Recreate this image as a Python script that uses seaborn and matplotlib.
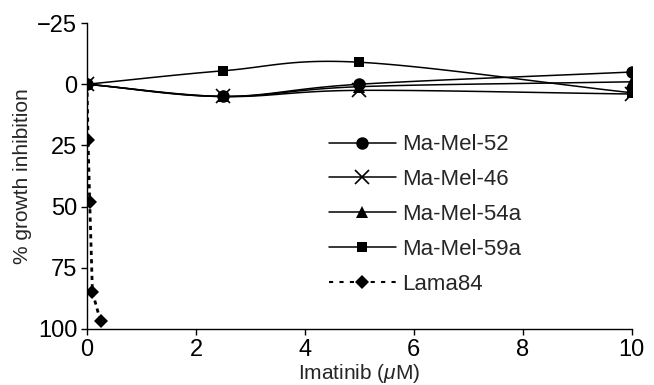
import numpy as np
import matplotlib
matplotlib.use("Agg")
import matplotlib.pyplot as plt
import seaborn as sns
from matplotlib.lines import Line2D

# ---- data ----
conc = [0, 2.5, 5, 10]
mamel52 = [0, 5, 0, -5]
mamel46 = [0, 5, 2.5, 4]
mamel54a = [0, 5, 1, -1]
mamel59a = [0, -5.5, -9, 3.5]
lama_conc = [0, 0.02, 0.05, 0.1, 0.25]
lama84 = [0, 23, 48, 85, 97]

series = [
    ("Ma-Mel-52", conc, mamel52, "o", 9, "-"),
    ("Ma-Mel-46", conc, mamel46, "x", 10, "-"),
    ("Ma-Mel-54a", conc, mamel54a, "^", 8, "-"),
    ("Ma-Mel-59a", conc, mamel59a, "s", 7, "-"),
    ("Lama84", lama_conc, lama84, "D", 7, "--"),
]

sns.set_theme(style="ticks")
plt.rcParams["font.family"] = ["Liberation Sans", "DejaVu Sans"]
plt.rcParams["mathtext.fontset"] = "custom"
plt.rcParams["mathtext.it"] = "Liberation Sans:italic"
plt.rcParams["mathtext.rm"] = "Liberation Sans"


def smooth(x, y, n=30):
    # Catmull-Rom style curve like spreadsheet "smoothed line" rendering
    x = np.asarray(x, float)
    y = np.asarray(y, float)
    px = np.concatenate([[2 * x[0] - x[1]], x, [2 * x[-1] - x[-2]]])
    py = np.concatenate([[2 * y[0] - y[1]], y, [2 * y[-1] - y[-2]]])
    xs, ys = [], []
    t = np.linspace(0, 1, n)
    for i in range(1, len(px) - 2):
        p0, p1, p2, p3 = [np.array([px[j], py[j]]) for j in (i - 1, i, i + 1, i + 2)]
        m1 = (p2 - p0) / 6
        m2 = (p3 - p1) / 6
        for tt in t:
            b0 = (1 - tt) ** 3
            b1 = 3 * (1 - tt) ** 2 * tt
            b2 = 3 * (1 - tt) * tt ** 2
            b3 = tt ** 3
            pt = b0 * p1 + b1 * (p1 + m1) + b2 * (p2 - m2) + b3 * p2
            xs.append(pt[0])
            ys.append(pt[1])
    return xs, ys


fig = plt.figure(figsize=(6.54, 3.85), dpi=100)
ax = fig.add_axes([0.133, 0.146, 0.833, 0.794])

dash = (0, (1.5, 1.5))
handles = []
for name, xv, yv, mk, ms, ls in series:
    if ls == "-":
        sx, sy = smooth(xv, yv)
        ax.plot(sx, sy, color="black", lw=1.1, zorder=2)
    else:
        ax.plot(xv, yv, color="black", lw=2, ls=dash, zorder=2)
    mew = 1.2 if mk == "x" else 0
    ax.plot(xv, yv, ls="none", marker=mk, ms=ms, color="black", mew=mew, zorder=3)
    handles.append(Line2D([0], [0], color="black", lw=1.1 if ls == "-" else 1.5,
                          ls="-" if ls == "-" else (0, (2, 3)), marker=mk, ms=ms,
                          mew=mew, label=name))

ax.set_xlim(0, 10)
ax.set_ylim(100, -25)
ax.set_xticks([0, 2, 4, 6, 8, 10])
ax.set_yticks([-25, 0, 25, 50, 75, 100])
ax.set_yticklabels(["\u221225", "0", "25", "50", "75", "100"])
ax.set_xlabel(r"Imatinib ($\mu$M)", fontsize=15, labelpad=1)
ax.set_ylabel("% growth inhibition", fontsize=15, labelpad=4)
ax.tick_params(axis="both", labelsize=17, direction="out", length=4, width=1,
               colors="black", pad=3)
for s in ["top", "right"]:
    ax.spines[s].set_visible(False)
for s in ["left", "bottom"]:
    ax.spines[s].set_color("black")
    ax.spines[s].set_linewidth(1)

ax.legend(handles=handles, loc="upper left", bbox_to_anchor=(0.428, 0.665), frameon=False,
          fontsize=16, handlelength=3.0, labelspacing=0.62, handletextpad=0.3,
          borderaxespad=0)

fig.savefig("out.png", dpi=100)
